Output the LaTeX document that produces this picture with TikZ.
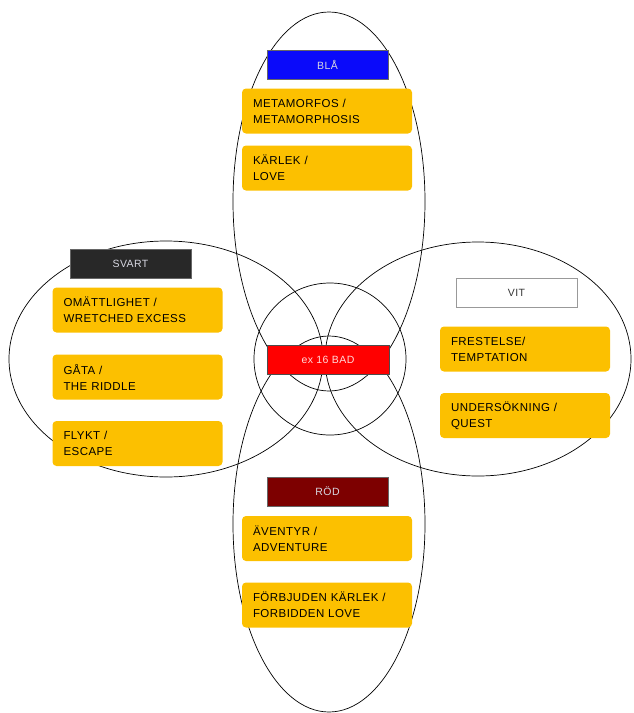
\documentclass[tikz,border=0pt]{standalone}
\usepackage{fontspec}
\setmainfont{Liberation Sans}[LetterSpace=4]
\usepackage{tikz}
\usetikzlibrary{arrows}

\definecolor{gold}{RGB}{252,192,0}
\definecolor{blaa}{RGB}{10,10,250}
\definecolor{svart}{RGB}{40,40,40}
\definecolor{roed}{RGB}{125,0,0}
\definecolor{bad}{RGB}{255,0,0}
\definecolor{headtext}{RGB}{215,215,225}

\tikzset{
	petal/.style={draw=black,line width=0.7pt},
	header/.style={draw=black!60,line width=0.5pt,minimum width=121pt,minimum height=29pt,
		inner sep=0pt,font=\fontsize{10.5}{12}\selectfont,text=headtext},
	theme/.style={fill=gold,rounded corners=4pt,minimum width=170pt,minimum height=45pt,
		text width=148pt,inner xsep=11pt,inner ysep=0pt,align=left,
		font=\fontsize{11.5}{16}\selectfont,text=black}
}

\begin{document}
\begin{tikzpicture}[x=1pt,y=-1pt]
		\useasboundingbox (0,0) rectangle (633,713);
%		\draw[help lines,step=50] (0,0) grid (633,713);
		\path (329,201.5) coordinate (top_c);
		\path (329,524) coordinate (bottom_c);
		\path (166,359) coordinate (left_c);
		\path (478,359) coordinate (right_c);
		\path (330,359) coordinate (mid_c);
		\path (327.5,64.5) coordinate (bla_pos);
		\path (327,111) coordinate (metamorfos_pos);
		\path (327,168) coordinate (karlek_pos);
		\path (130.5,263.5) coordinate (svart_pos);
		\path (137.5,310) coordinate (omattlighet_pos);
		\path (137.5,377) coordinate (gata_pos);
		\path (137.5,443.5) coordinate (flykt_pos);
		\path (516.5,293) coordinate (vit_pos);
		\path (525,349) coordinate (frestelse_pos);
		\path (525,415.5) coordinate (undersokning_pos);
		\path (328,359.5) coordinate (bad_pos);
		\path (327.5,491.5) coordinate (rod_pos);
		\path (327,538.5) coordinate (aventyr_pos);
		\path (327,605) coordinate (forbjuden_pos);

		\draw[petal] (top_c) ellipse [x radius=96pt, y radius=189.5pt];
		\draw[petal] (bottom_c) ellipse [x radius=96pt, y radius=188pt];
		\draw[petal] (left_c) ellipse [x radius=157pt, y radius=118pt];
		\draw[petal] (right_c) ellipse [x radius=153pt, y radius=117pt];
		\draw[petal] (mid_c) circle [radius=76pt];

		\draw (bla_pos) node[header,fill=blaa] (bla) {BLÅ};
		\draw (metamorfos_pos) node[theme] (metamorfos) {METAMORFOS /\\METAMORPHOSIS};
		\draw (karlek_pos) node[theme] (karlek) {KÄRLEK /\\LOVE};
		\draw (svart_pos) node[header,fill=svart] (svart) {SVART};
		\draw (omattlighet_pos) node[theme] (omattlighet) {OMÄTTLIGHET /\\WRETCHED EXCESS};
		\draw (gata_pos) node[theme] (gata) {GÅTA /\\THE RIDDLE};
		\draw (flykt_pos) node[theme] (flykt) {FLYKT /\\ESCAPE};
		\draw (vit_pos) node[header,fill=white,draw=black!40,text=black!80] (vit) {VIT};
		\draw (frestelse_pos) node[theme] (frestelse) {FRESTELSE/\\TEMPTATION};
		\draw (undersokning_pos) node[theme] (undersokning) {UNDERSÖKNING /\\QUEST};
		\draw (bad_pos) node[header,fill=bad,draw=black!70,minimum width=122pt,text=red!15] (bad) {ex 16 BAD};
		\draw (rod_pos) node[header,fill=roed] (rod) {RÖD};
		\draw (aventyr_pos) node[theme] (aventyr) {ÄVENTYR /\\ADVENTURE};
		\draw (forbjuden_pos) node[theme] (forbjuden) {FÖRBJUDEN KÄRLEK /\\FORBIDDEN LOVE};
	\end{tikzpicture}
\end{document}
